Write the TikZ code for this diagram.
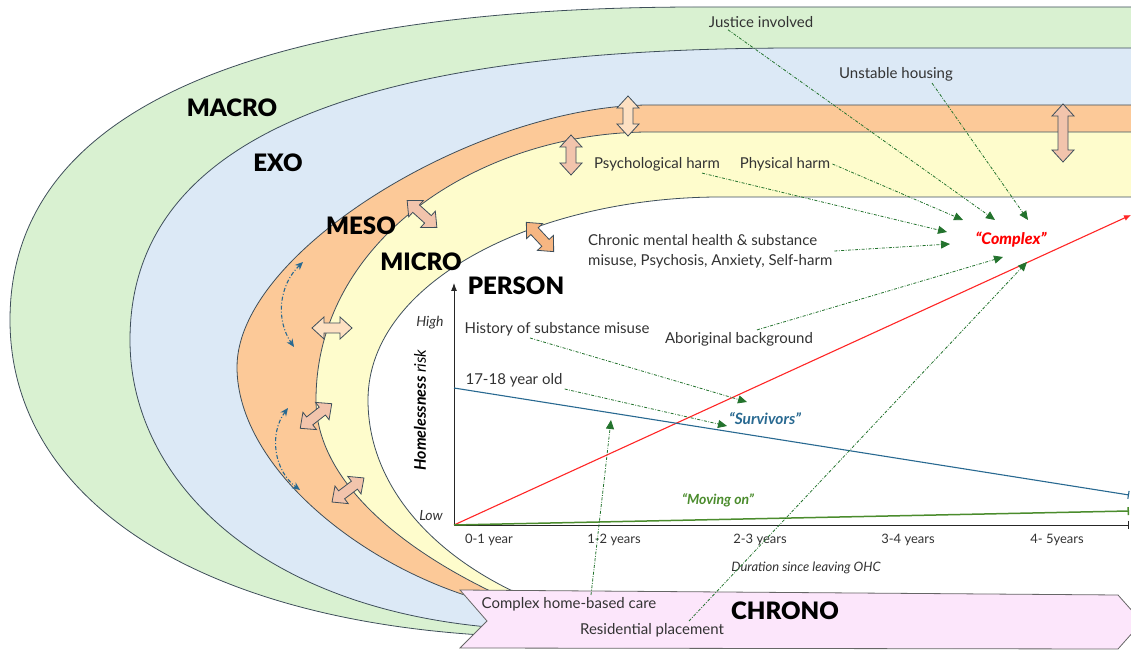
\documentclass[tikz,border=0pt]{standalone}
\usepackage{fontspec}
\setmainfont{Lato}
\newfontfamily\heavyfont{Lato Black}
\usepackage{tikz}
\usetikzlibrary{calc}
\usetikzlibrary{arrows.meta}
\usetikzlibrary{shapes,arrows}

\definecolor{macrogreen}{RGB}{217,241,209}
\definecolor{exoblue}{RGB}{220,233,246}
\definecolor{mesoorange}{RGB}{252,201,152}
\definecolor{microyellow}{RGB}{254,252,204}
\definecolor{bandline}{RGB}{62,78,90}
\definecolor{chronopink}{RGB}{252,230,251}
\definecolor{txtgray}{RGB}{51,51,51}
\definecolor{linkgreen}{RGB}{35,115,45}
\definecolor{survblue}{RGB}{40,105,145}
\definecolor{movegreen}{RGB}{75,140,45}
\definecolor{peach}{RGB}{242,196,172}
\definecolor{palepeach}{RGB}{253,224,194}
\definecolor{deeppeach}{RGB}{246,182,130}

\newcommand{\fsz}[1]{\fontsize{#1pt}{#1pt}\selectfont}

% double block arrow: x, y, angle, length, fill
\newcommand{\dblarrow}[5]{%
	\begin{scope}[shift={(#1,#2)},rotate=#3]
	\draw [draw=bandline, line width=0.8pt, fill=#5] (-#4/2,0) -- (-#4/2+12,11) -- (-#4/2+12,5) -- (#4/2-12,5) -- (#4/2-12,11) -- (#4/2,0)
	-- (#4/2-12,-11) -- (#4/2-12,-5) -- (-#4/2+12,-5) -- (-#4/2+12,-11) -- cycle;
	\end{scope}}

\begin{document}
\begin{tikzpicture}[x=1pt,y=1pt]
	\tikzstyle{every node}=[font=\fsz{15}, text=txtgray, inner sep=2pt]
	\tikzstyle{band}=[draw=bandline, line width=0.8pt]
	\tikzstyle{ring}=[font=\heavyfont\fsz{24}, text=black]
	\tikzstyle{link}=[draw=linkgreen, line width=0.8pt, dash pattern=on 3pt off 1.5pt on 0.8pt off 1.5pt, -{Triangle[length=9pt,width=8pt]}]
	\tikzstyle{swing}=[draw=survblue, line width=1.1pt, dash pattern=on 4pt off 2pt on 1pt off 2pt, {Stealth[length=8pt,width=7pt]}-{Stealth[length=8pt,width=7pt]}]
	
	\useasboundingbox (0,0) rectangle (1131,650);
	\clip (0,0) rectangle (1131,650);
	
	% systems, outside in
	\filldraw [band, fill=macrogreen] (1140,643) -- (700,643) .. controls (300,643) and (10,560) .. (10,330)
	.. controls (10,150) and (200,28) .. (500,14) -- (1140,30) -- cycle;
	\filldraw [band, fill=exoblue] (1140,602) -- (800,602) .. controls (400,602) and (130,530) .. (130,310)
	.. controls (130,170) and (260,40) .. (500,22) -- (1140,30) -- cycle;
	\filldraw [band, fill=mesoorange] (1140,545) -- (650,545) .. controls (480,545) and (237,400) .. (237,283)
	.. controls (237,180) and (370,75) .. (500,45) -- (1140,30) -- cycle;
	\filldraw [band, fill=microyellow] (1140,518) -- (650,518) .. controls (480,518) and (316,410) .. (316,250)
	.. controls (316,170) and (400,100) .. (505,52) -- (1140,30) -- cycle;
	\filldraw [band, fill=white] (1140,453) -- (720,453) .. controls (540,453) and (368,370) .. (368,250)
	.. controls (368,160) and (440,85) .. (545,45) -- (1140,30) -- cycle;
	
	% CHRONO
	\filldraw [draw=black!60, line width=0.8pt, fill=chronopink] (460,60) -- (1118,55) -- (1142,28) -- (1118,1) -- (460,2) -- (487,29) -- cycle;
	
	\node[ring] (macro) at (232,542) {MACRO};
	\node[ring] (exo) at (278,487) {EXO};
	\node[ring] (meso) at (361,424) {MESO};
	\node[ring] (micro) at (421,388) {MICRO};
	\node[ring] (person) at (516,364) {PERSON};
	\node[ring] (chrono) at (785,39) {CHRONO};
	
	% interactions between systems
	\dblarrow{628}{534}{90}{40}{palepeach}
	\dblarrow{571}{495}{90}{40}{peach}
	\dblarrow{1063}{517}{90}{58}{peach}
	\dblarrow{422}{436}{-42}{40}{peach}
	\dblarrow{540}{413}{-47}{40}{deeppeach}
	\dblarrow{332}{322}{0}{40}{palepeach}
	\dblarrow{316}{234}{38}{40}{peach}
	\dblarrow{348}{160}{37}{40}{peach}
	
	\coordinate (ma1) at (303,388);
	\coordinate (ma2) at (294,303);
	\coordinate (mb1) at (288,242);
	\coordinate (mb2) at (300,160);
	\draw [swing] (ma1) to[bend right=40] (ma2);
	\draw [swing] (mb1) to[bend right=45] (mb2);
	
	% risk plot
	\coordinate (org) at (454,125);
	\coordinate (ytop) at (454,367);
	\coordinate (xend) at (1129,125);
	\coordinate (redend) at (1131,435);
	\coordinate (bluestart) at (454,262);
	\coordinate (blueend) at (1129,155);
	\coordinate (greenend) at (1129,139);
	\draw [-{Latex[length=8pt,width=6pt]}, line width=0.9pt, draw=black!85] (org) -- (ytop);
	\draw [-{Bar[width=8pt]}, line width=0.9pt, draw=black!85] (org) -- (xend);
	\draw [-{Latex[length=7pt,width=6pt]}, line width=1.1pt, draw=red!85] (org) -- (redend);
	\draw [-{Bar[width=8pt]}, line width=1.1pt, draw=survblue] (bluestart) -- (blueend);
	\draw [-{Bar[width=8pt]}, line width=1.5pt, draw=movegreen] (org) -- (greenend);
	
	\node[font=\itshape\fsz{14}] (high) at (430,327) {High};
	\node[font=\itshape\fsz{14}] (low) at (431,134) {Low};
	\node[rotate=90, font=\itshape\fsz{16}, text=black] (yrisk) at (420,240) {\textbf{Homelessness} risk};
	
	\node[font=\fsz{13}] (t1) at (489,110) {0-1 year};
	\node[font=\fsz{13}] (t2) at (614,110) {1-2 years};
	\node[font=\fsz{13}] (t3) at (760,110) {2-3 years};
	\node[font=\fsz{13}] (t4) at (908,110) {3-4 years};
	\node[font=\fsz{13}] (t5) at (1057,110) {4- 5years};
	\node[font=\itshape\fsz{13}] (xlab) at (806,82) {Duration since leaving OHC};
	
	% factors
	\node (justice) at (761,628) {Justice involved};
	\node (unstable) at (896,576) {Unstable housing};
	\node (psych) at (657,486) {Psychological harm};
	\node (phys) at (785,486) {Physical harm};
	\node[align=left, anchor=west, font=\fontsize{15pt}{20pt}\selectfont] (chronic) at (586,399) {Chronic mental health \& substance\\misuse, Psychosis, Anxiety, Self-harm};
	\node (history) at (557,321) {History of substance misuse};
	\node (abor) at (739,311) {Aboriginal background};
	\node (age) at (514,270) {17-18 year old};
	\node (homecare) at (569,46) {Complex home-based care};
	\node (resid) at (652,20) {Residential placement};
	
	\node[font=\heavyfont\itshape\fsz{16}, text=red] (complex) at (1011,410) {“Complex”};
	\node[font=\bfseries\itshape\fsz{15.5}, text=survblue] (survivors) at (765,231) {“Survivors”};
	\node[font=\bfseries\itshape\fsz{14}, text=movegreen] (movingon) at (718,150) {“Moving on”};
	
	\coordinate (cA) at (947,418);
	\coordinate (cB) at (950,406);
	\coordinate (cC) at (963,430);
	\coordinate (cD) at (995,430);
	\coordinate (cE) at (1028,430);
	\coordinate (cF) at (1003,393);
	\coordinate (cG) at (1027,388);
	\coordinate (sA) at (747,248);
	\coordinate (sB) at (727,224);
	\coordinate (sC) at (611,230);
	
	\draw [link] ([xshift=45]psych.south) -- (cA);
	\draw [link] (chronic.east) -- (cB);
	\draw [link] (phys.east) -- (cC);
	\draw [link] ([xshift=-33]justice.south) -- (cD);
	\draw [link] ([xshift=36]unstable.south) -- (cE);
	\draw [link] ([xshift=18]abor.north) -- (cF);
	\draw [link] ([xshift=37]resid.north) -- (cG);
	\draw [link] ([xshift=-27]history.south) -- (sA);
	\draw [link] (age.south east) -- (sB);
	\draw [link] ([xshift=22]homecare.north) -- (sC);
	
\end{tikzpicture}
\end{document}
